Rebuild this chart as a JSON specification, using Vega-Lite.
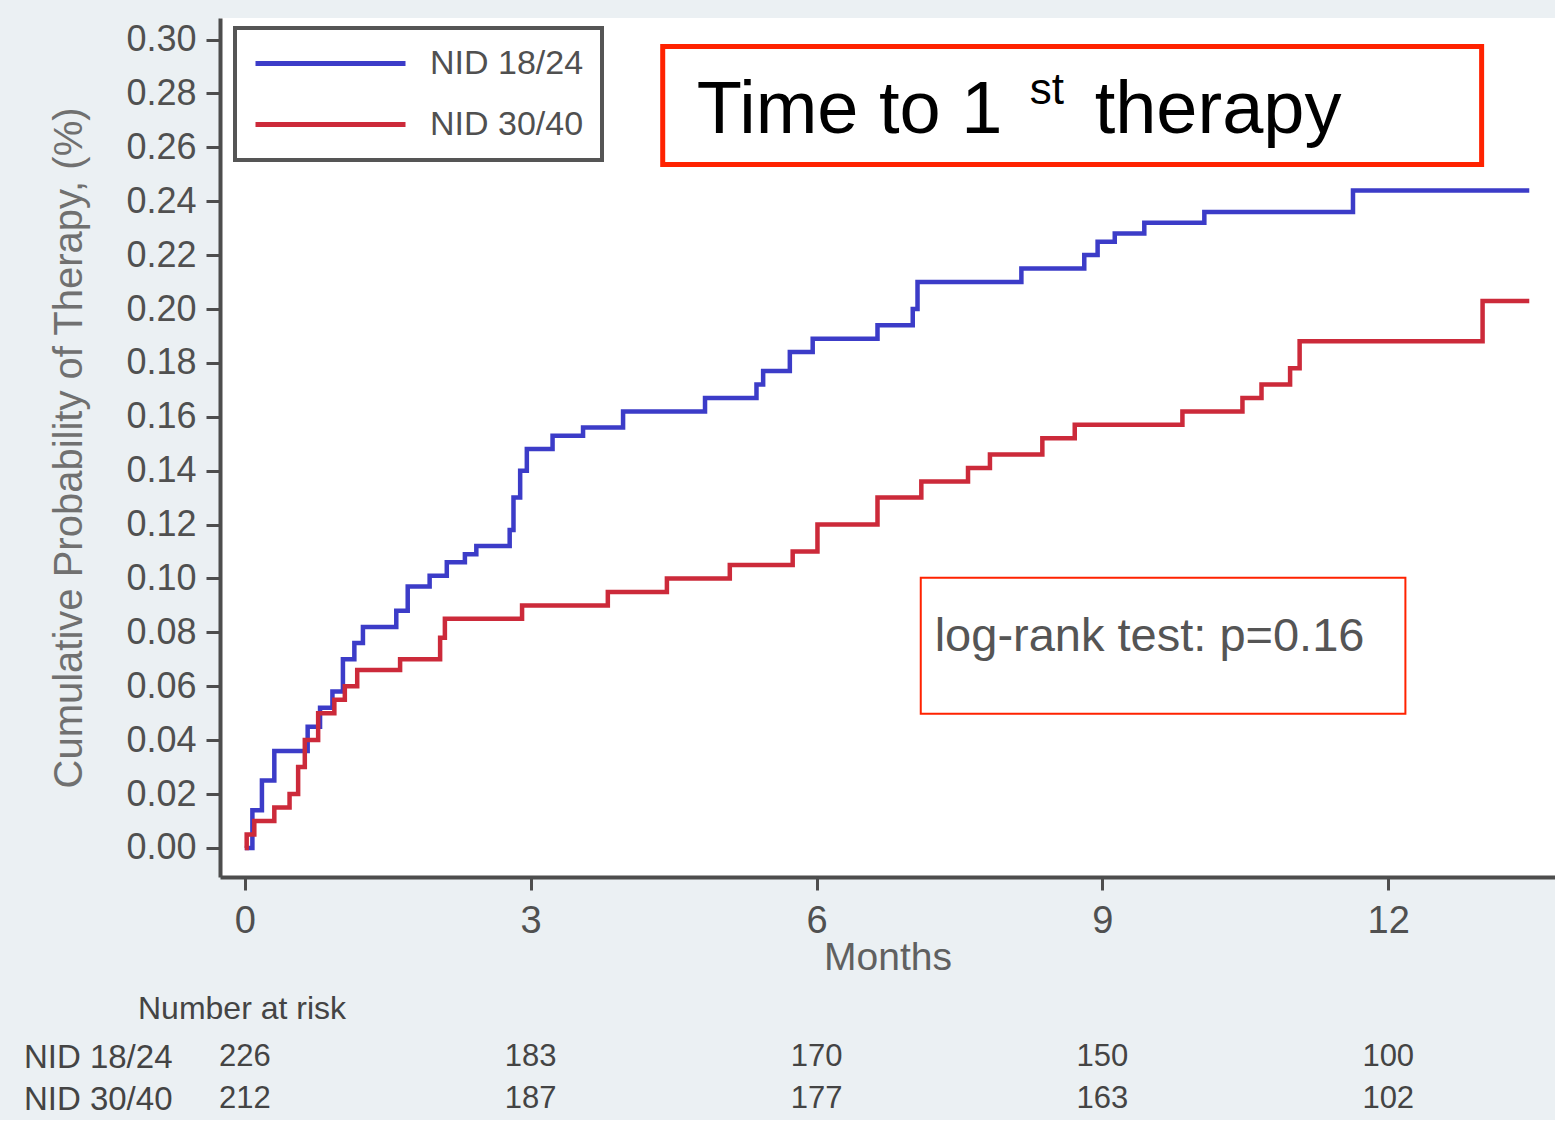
{
  "$schema": "https://vega.github.io/schema/vega-lite/v6.json",
  "background": "#ebf0f3",
  "padding": {"left": 23, "top": 18, "right": 0, "bottom": 0},
  "autosize": {"type": "pad"},
  "bounds": "flush",
  "spacing": 159,
  "config": {"font": "Liberation Sans", "view": {"stroke": null}},
  "datasets": {
    "km": [
      {"group": "NID 18/24", "month": 0, "prob": 0},
      {"group": "NID 18/24", "month": 0.08, "prob": 0.014},
      {"group": "NID 18/24", "month": 0.18, "prob": 0.025},
      {"group": "NID 18/24", "month": 0.31, "prob": 0.036},
      {"group": "NID 18/24", "month": 0.66, "prob": 0.045},
      {"group": "NID 18/24", "month": 0.79, "prob": 0.052},
      {"group": "NID 18/24", "month": 0.92, "prob": 0.058},
      {"group": "NID 18/24", "month": 1.03, "prob": 0.07},
      {"group": "NID 18/24", "month": 1.15, "prob": 0.076},
      {"group": "NID 18/24", "month": 1.24, "prob": 0.082},
      {"group": "NID 18/24", "month": 1.59, "prob": 0.088},
      {"group": "NID 18/24", "month": 1.71, "prob": 0.097},
      {"group": "NID 18/24", "month": 1.94, "prob": 0.101},
      {"group": "NID 18/24", "month": 2.12, "prob": 0.106},
      {"group": "NID 18/24", "month": 2.31, "prob": 0.109},
      {"group": "NID 18/24", "month": 2.43, "prob": 0.112},
      {"group": "NID 18/24", "month": 2.78, "prob": 0.118},
      {"group": "NID 18/24", "month": 2.82, "prob": 0.13},
      {"group": "NID 18/24", "month": 2.89, "prob": 0.14},
      {"group": "NID 18/24", "month": 2.96, "prob": 0.148},
      {"group": "NID 18/24", "month": 3.23, "prob": 0.153},
      {"group": "NID 18/24", "month": 3.55, "prob": 0.156},
      {"group": "NID 18/24", "month": 3.97, "prob": 0.162},
      {"group": "NID 18/24", "month": 4.83, "prob": 0.167},
      {"group": "NID 18/24", "month": 5.37, "prob": 0.172},
      {"group": "NID 18/24", "month": 5.44, "prob": 0.177},
      {"group": "NID 18/24", "month": 5.72, "prob": 0.184},
      {"group": "NID 18/24", "month": 5.96, "prob": 0.189},
      {"group": "NID 18/24", "month": 6.64, "prob": 0.194},
      {"group": "NID 18/24", "month": 7.01, "prob": 0.2},
      {"group": "NID 18/24", "month": 7.06, "prob": 0.21},
      {"group": "NID 18/24", "month": 8.15, "prob": 0.215},
      {"group": "NID 18/24", "month": 8.81, "prob": 0.22},
      {"group": "NID 18/24", "month": 8.95, "prob": 0.225},
      {"group": "NID 18/24", "month": 9.13, "prob": 0.228},
      {"group": "NID 18/24", "month": 9.44, "prob": 0.232},
      {"group": "NID 18/24", "month": 10.07, "prob": 0.236},
      {"group": "NID 18/24", "month": 11.63, "prob": 0.244},
      {"group": "NID 18/24", "month": 13.48, "prob": 0.244},
      {"group": "NID 30/40", "month": 0, "prob": 0},
      {"group": "NID 30/40", "month": 0.02, "prob": 0.005},
      {"group": "NID 30/40", "month": 0.1, "prob": 0.01},
      {"group": "NID 30/40", "month": 0.31, "prob": 0.015},
      {"group": "NID 30/40", "month": 0.47, "prob": 0.02},
      {"group": "NID 30/40", "month": 0.56, "prob": 0.03},
      {"group": "NID 30/40", "month": 0.63, "prob": 0.04},
      {"group": "NID 30/40", "month": 0.77, "prob": 0.05},
      {"group": "NID 30/40", "month": 0.94, "prob": 0.055},
      {"group": "NID 30/40", "month": 1.05, "prob": 0.06},
      {"group": "NID 30/40", "month": 1.18, "prob": 0.066},
      {"group": "NID 30/40", "month": 1.63, "prob": 0.07},
      {"group": "NID 30/40", "month": 2.05, "prob": 0.078},
      {"group": "NID 30/40", "month": 2.1, "prob": 0.085},
      {"group": "NID 30/40", "month": 2.91, "prob": 0.09},
      {"group": "NID 30/40", "month": 3.81, "prob": 0.095},
      {"group": "NID 30/40", "month": 4.43, "prob": 0.1},
      {"group": "NID 30/40", "month": 5.09, "prob": 0.105},
      {"group": "NID 30/40", "month": 5.75, "prob": 0.11},
      {"group": "NID 30/40", "month": 6.01, "prob": 0.12},
      {"group": "NID 30/40", "month": 6.64, "prob": 0.13},
      {"group": "NID 30/40", "month": 7.1, "prob": 0.136},
      {"group": "NID 30/40", "month": 7.59, "prob": 0.141},
      {"group": "NID 30/40", "month": 7.82, "prob": 0.146},
      {"group": "NID 30/40", "month": 8.37, "prob": 0.152},
      {"group": "NID 30/40", "month": 8.71, "prob": 0.157},
      {"group": "NID 30/40", "month": 9.84, "prob": 0.162},
      {"group": "NID 30/40", "month": 10.47, "prob": 0.167},
      {"group": "NID 30/40", "month": 10.67, "prob": 0.172},
      {"group": "NID 30/40", "month": 10.97, "prob": 0.178},
      {"group": "NID 30/40", "month": 11.07, "prob": 0.188},
      {"group": "NID 30/40", "month": 12.99, "prob": 0.203},
      {"group": "NID 30/40", "month": 13.48, "prob": 0.203}
    ],
    "risk": [
      {"group": "NID 18/24", "month": 0, "n": 226},
      {"group": "NID 18/24", "month": 3, "n": 183},
      {"group": "NID 18/24", "month": 6, "n": 170},
      {"group": "NID 18/24", "month": 9, "n": 150},
      {"group": "NID 18/24", "month": 12, "n": 100},
      {"group": "NID 30/40", "month": 0, "n": 212},
      {"group": "NID 30/40", "month": 3, "n": 187},
      {"group": "NID 30/40", "month": 6, "n": 177},
      {"group": "NID 30/40", "month": 9, "n": 163},
      {"group": "NID 30/40", "month": 12, "n": 102}
    ],
    "boxes": [
      {"box": "title", "m0": 4.386, "m1": 12.98, "p0": 0.2974, "p1": 0.2536},
      {"box": "test", "m0": 7.094, "m1": 12.18, "p0": 0.1003, "p1": 0.0498}
    ]
  },
  "vconcat": [
    {
      "width": 1335,
      "height": 859,
      "view": {"fill": "white", "stroke": null},
      "layer": [
        {
          "data": {"name": "km"},
          "mark": {"type": "line", "interpolate": "step-after", "strokeWidth": 4.5},
          "encoding": {
            "x": {
              "field": "month", "type": "quantitative",
              "scale": {"domain": [-0.26, 13.75], "nice": false, "zero": false},
              "axis": {
                "values": [0, 3, 6, 9, 12], "format": "d", "title": "Months", "grid": false,
                "labelFontSize": 38, "titleFontSize": 39, "titleFontWeight": "normal",
                "domainColor": "#4d4d4d", "domainWidth": 4, "tickColor": "#4d4d4d", "tickWidth": 3, "tickSize": 13,
                "labelPadding": 12, "titlePadding": -2, "labelColor": "#505050", "titleColor": "#606060"
              }
            },
            "y": {
              "field": "prob", "type": "quantitative",
              "scale": {"domain": [-0.0108, 0.308], "nice": false, "zero": false},
              "axis": {
                "values": [0, 0.02, 0.04, 0.06, 0.08, 0.1, 0.12, 0.14, 0.16, 0.18, 0.2, 0.22, 0.24, 0.26, 0.28, 0.3],
                "format": ".2f", "title": "Cumulative Probability of Therapy, (%)", "grid": false,
                "labelFontSize": 36, "titleFontSize": 40, "titleFontWeight": "normal",
                "domainColor": "#4d4d4d", "domainWidth": 4, "tickColor": "#4d4d4d", "tickWidth": 3, "tickSize": 14,
                "labelPadding": 10, "titlePadding": 36, "labelColor": "#505050", "titleColor": "#707070"
              }
            },
            "color": {
              "field": "group", "type": "nominal",
              "scale": {"domain": ["NID 18/24", "NID 30/40"], "range": ["#3c3cc8", "#cc2a3a"]},
              "legend": {
                "orient": "none", "legendX": 15, "legendY": 10, "title": null,
                "symbolType": "M-1,0H9", "symbolSize": 900, "symbolStrokeWidth": 5,
                "labelFontSize": 34, "labelOffset": 142, "labelColor": "#505050",
                "rowPadding": 26, "padding": 18, "fillColor": "white", "strokeColor": "#555555",
                "encode": {"legend": {"update": {"strokeWidth": {"value": 4}}}}
              }
            }
          }
        },
        {
          "data": {"name": "boxes"},
          "mark": {"type": "rect", "fill": "white", "stroke": "#ff2200"},
          "encoding": {
            "x": {"field": "m0", "type": "quantitative"},
            "x2": {"field": "m1"},
            "y": {"field": "p0", "type": "quantitative"},
            "y2": {"field": "p1"},
            "strokeWidth": {"field": "box", "type": "nominal", "scale": {"domain": ["title", "test"], "range": [5, 2]}, "legend": null}
          }
        },
        {
          "data": {"values": [{"m": 4.743, "p": 0.2655, "label": "Time to 1"}, {"m": 8.919, "p": 0.2655, "label": "therapy"}]},
          "mark": {"type": "text", "align": "left", "baseline": "alphabetic", "fontSize": 74, "color": "black"},
          "encoding": {
            "x": {"field": "m", "type": "quantitative"},
            "y": {"field": "p", "type": "quantitative"},
            "text": {"field": "label"}
          }
        },
        {
          "data": {"values": [{"m": 8.237, "p": 0.2759, "label": "st"}]},
          "mark": {"type": "text", "align": "left", "baseline": "alphabetic", "fontSize": 44, "color": "black"},
          "encoding": {
            "x": {"field": "m", "type": "quantitative"},
            "y": {"field": "p", "type": "quantitative"},
            "text": {"field": "label"}
          }
        },
        {
          "data": {"values": [{"m": 7.24, "p": 0.0784, "label": "log-rank test: p=0.16"}]},
          "mark": {"type": "text", "align": "left", "baseline": "middle", "fontSize": 47, "color": "#555555"},
          "encoding": {
            "x": {"field": "m", "type": "quantitative"},
            "y": {"field": "p", "type": "quantitative"},
            "text": {"field": "label"}
          }
        }
      ]
    },
    {
      "width": 1335,
      "height": 84,
      "view": {"stroke": null},
      "title": {"text": "Number at risk", "anchor": "start", "frame": "group", "dx": -82, "fontSize": 32, "fontWeight": "normal", "color": "#444444", "offset": 10},
      "data": {"name": "risk"},
      "mark": {"type": "text", "fontSize": 31, "color": "#444444"},
      "encoding": {
        "x": {"field": "month", "type": "quantitative", "scale": {"domain": [-0.26, 13.75], "nice": false, "zero": false}, "axis": null},
        "y": {
          "field": "group", "type": "nominal", "sort": ["NID 18/24", "NID 30/40"],
          "scale": {"type": "point", "padding": 0.5},
          "axis": {"title": null, "domain": false, "ticks": false, "labelFontSize": 33, "labelPadding": 48, "labelColor": "#444444"}
        },
        "text": {"field": "n", "type": "quantitative"}
      }
    }
  ]
}
